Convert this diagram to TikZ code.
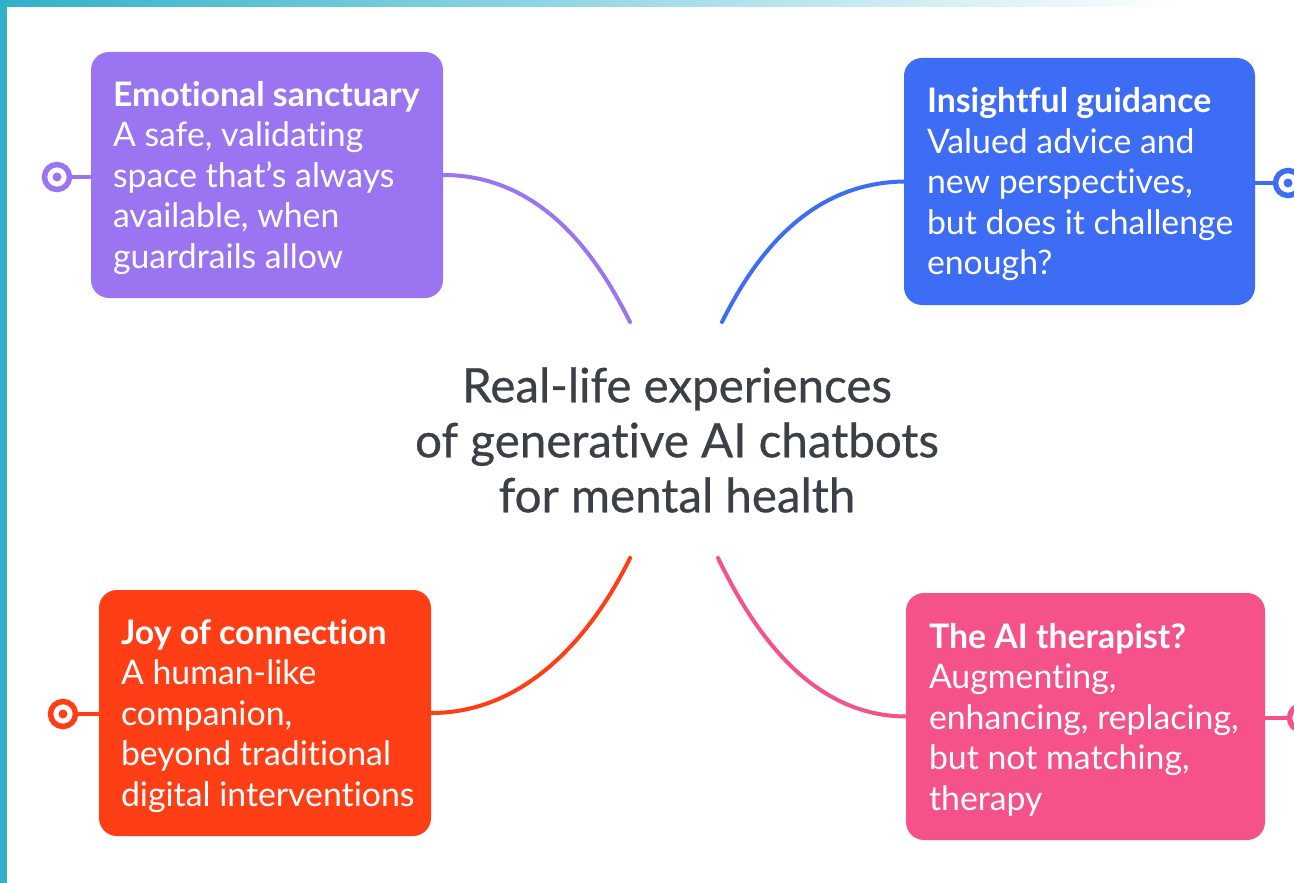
\documentclass[tikz,border=0pt]{standalone}
\usepackage{fontspec}
\setmainfont{Lato}[Ligatures=NoCommon]
\newfontfamily\titlefont[FakeBold=0.6,Ligatures=NoCommon]{Lato}
\definecolor{purp}{HTML}{9B74F1}
\definecolor{bluec}{HTML}{3E6DF5}
\definecolor{orng}{HTML}{FF3E16}
\definecolor{pinkc}{HTML}{F5528A}
\definecolor{tealc}{HTML}{2FB1CA}
\definecolor{titlec}{HTML}{3B4047}
\begin{document}
\begin{tikzpicture}[x=1pt,y=-1pt,
  box/.style={draw=none, rounded corners=18pt, inner sep=0pt},
  boxtext/.style={text=white, align=left, anchor=west, inner sep=0pt, font=\fontsize{33.8}{40.5}\selectfont},
  link/.style={line width=4pt, line cap=round},
  stub/.style={line width=3.5pt},
  marker/.style={circle, line width=5.5pt, minimum size=25pt, inner sep=0pt, fill=white},
  title/.style={text=titlec, align=center, inner sep=0pt, font=\fontsize{47.5}{55}\titlefont}]
\useasboundingbox (0,0) rectangle (1294,883);
\fill[white] (0,0) rectangle (1294,883);
\shade[left color=tealc, right color=white] (0,0) rectangle (1180,7);
\fill[tealc] (0,0) rectangle (7,883);

% boxes
\node[box, fill=purp, minimum width=352pt, minimum height=246pt] (es) at (267,175) {};
\node[box, fill=bluec, minimum width=351pt, minimum height=247pt] (ig) at (1079.5,181.5) {};
\node[box, fill=orng, minimum width=332pt, minimum height=246pt] (jc) at (265,713) {};
\node[box, fill=pinkc, minimum width=359pt, minimum height=247pt] (ai) at (1085.5,716.5) {};

\node[boxtext] (est) at ([xshift=22pt,yshift=-3pt]es.west) {\textbf{Emotional sanctuary}\\A safe, validating\\space that's always\\available, when\\guardrails allow};
\node[boxtext] (igt) at ([xshift=23pt,yshift=-3pt]ig.west) {\textbf{Insightful guidance}\\Valued advice and\\new perspectives,\\but does it challenge\\enough?};
\node[boxtext] (jct) at ([xshift=22pt,yshift=-3pt]jc.west) {\textbf{Joy of connection}\\A human-like\\companion,\\beyond traditional\\digital interventions};
\node[boxtext] (ait) at ([xshift=23pt,yshift=-3pt]ai.west) {\textbf{The AI therapist?}\\Augmenting,\\enhancing, replacing,\\but not matching,\\therapy};

% centre
\node[title] (c) at (677,440) {Real-life experiences\\of generative AI chatbots\\for mental health};

\coordinate (cnw) at (630,322);
\coordinate (cne) at (722,322);
\coordinate (csw) at (630,558);
\coordinate (cse) at (718,558);

\draw[link, purp] (es.east) .. controls (545,175) and (600,262) .. (cnw);
\draw[link, bluec] (ig.west) .. controls (805,183) and (752,262) .. (cne);
\draw[link, orng] (jc.east) .. controls (535,713) and (600,620) .. (csw);
\draw[link, pinkc] (ai.west) .. controls (805,716) and (748,620) .. (cse);

% markers
\node[marker, draw=purp] (esm) at (57,177) {};
\node[marker, draw=bluec] (igm) at (1288,183) {};
\node[marker, draw=orng] (jcm) at (63,714) {};
\node[marker, draw=pinkc] (aim) at (1302,718) {};
\fill[purp] (esm) circle[radius=4.5pt];
\fill[bluec] (igm) circle[radius=4.5pt];
\fill[orng] (jcm) circle[radius=4.5pt];
\draw[stub, purp] (esm.east) -- (esm -| es.west);
\draw[stub, bluec] (igm.west) -- (igm -| ig.east);
\draw[stub, orng] (jcm.east) -- (jcm -| jc.west);
\draw[stub, pinkc] (aim.west) -- (aim -| ai.east);
\end{tikzpicture}
\end{document}
